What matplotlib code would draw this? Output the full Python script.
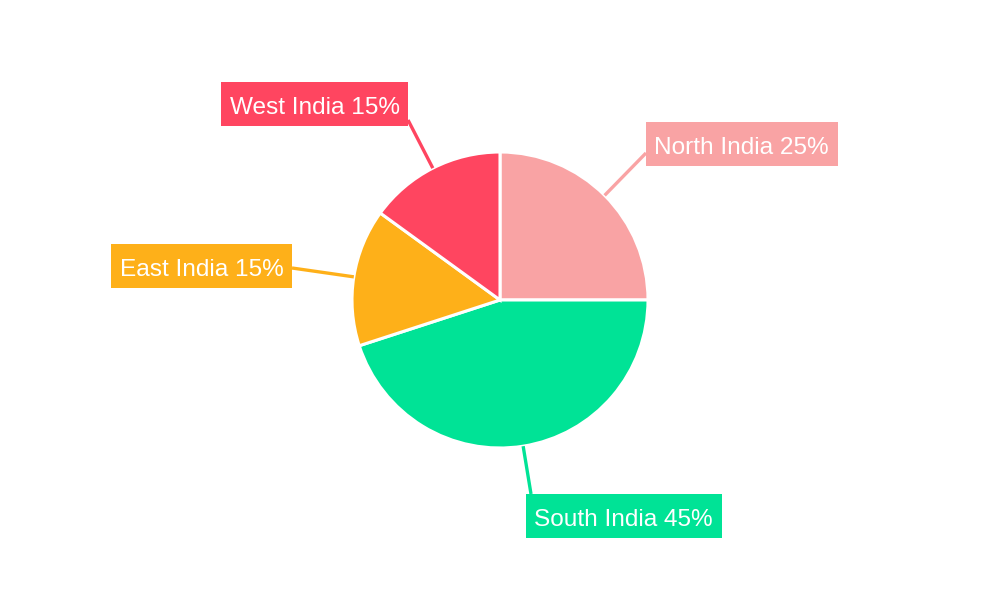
import numpy as np
import matplotlib.pyplot as plt
from matplotlib.patches import Rectangle

plt.rcParams['font.family'] = ['Liberation Sans', 'DejaVu Sans']

# data
regions = ["North India", "South India", "East India", "West India"]
shares = [25, 45, 15, 15]
colors = ["#F9A3A4", "#00E396", "#FEB019", "#FF4560"]

# label line end points (pixels, y down) and box geometry
line_ends = [(646, 153), (531, 494), (292, 268), (408, 120)]
box_anchor = [("left", "center", 646, 144), ("left", "top", 526, 494),
              ("right", "center", 292, 266), ("right", "bottom", 408, 126)]

W, H = 1000, 600
CX, CY, R = 500, 300, 148

fig = plt.figure(figsize=(10, 6), dpi=100)
ax = fig.add_axes([0, 0, 1, 1])
ax.pie(shares, colors=colors, startangle=90, counterclock=False,
       center=(CX, H - CY), radius=R,
       wedgeprops=dict(edgecolor="white", linewidth=2.2))
ax.set_xlim(0, W)
ax.set_ylim(0, H)
ax.set_aspect("equal")
ax.axis("off")

total = sum(shares)
cum = 0
for name, val, col, end, anc in zip(regions, shares, colors, line_ends, box_anchor):
    mid = 90 - 360 * (cum + val / 2) / total
    cum += val
    sx = CX + R * np.cos(np.radians(mid))
    sy = (H - CY) + R * np.sin(np.radians(mid))
    ax.plot([sx, end[0]], [sy, H - end[1]], color=col, lw=2.4,
            solid_capstyle="butt", zorder=1)

    label = f"{name} {val}%"
    t = ax.text(0, 0, label, fontsize=17.6, color="white", ha="center",
                va="baseline", zorder=4)
    fig.canvas.draw()
    bb = t.get_window_extent()
    bw = bb.width + 17
    bh = 44
    ha, va, ax_x, ax_y = anc
    x0 = ax_x if ha == "left" else ax_x - bw
    if va == "center":
        y0 = ax_y - bh / 2
    elif va == "top":
        y0 = ax_y
    else:
        y0 = ax_y - bh
    ax.add_patch(Rectangle((x0, H - y0 - bh), bw, bh, facecolor=col,
                           edgecolor="none", zorder=3))
    t.set_position((x0 + bw / 2, H - (y0 + bh / 2 + 9.5)))

fig.savefig("out.png", dpi=100, facecolor="white")
